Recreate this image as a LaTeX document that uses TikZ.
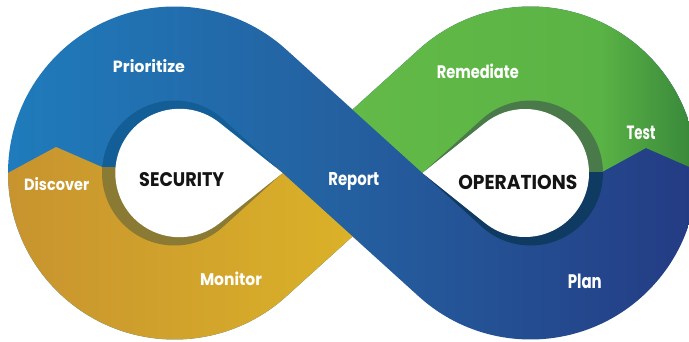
\documentclass[tikz,border=0pt]{standalone}
\usepackage{fontspec}
\usepackage{graphicx}
\setmainfont{Poppins}
\usetikzlibrary{calc}
\definecolor{bluL}{HTML}{1F7CBC}
\definecolor{bluM}{HTML}{2460A0}
\definecolor{bluR}{HTML}{243C84}
\definecolor{yelL}{HTML}{C7932F}
\definecolor{yelR}{HTML}{DBB228}
\definecolor{grnL}{HTML}{63BA47}
\definecolor{grnM}{HTML}{5AB345}
\definecolor{grnR}{HTML}{3A8A3B}
\definecolor{ringB}{HTML}{135E96}
\definecolor{ringY}{HTML}{8B7A34}
\definecolor{ringG}{HTML}{4B7A4A}
\definecolor{ringN}{HTML}{0F3A62}
\tikzset{
  lab/.style={text=white, inner sep=0pt, anchor=base, font=\bfseries},
  hub/.style={text=black!92, inner sep=0pt, anchor=base, font=\bfseries}
}
\begin{document}
\begin{tikzpicture}[x=1pt,y=1pt]
\useasboundingbox (0,0) rectangle (689,341);
\clip (0,0) rectangle (689,341);
\pgfmathsetmacro{\al}{asin(119.5/178)}
\pgfmathsetmacro{\be}{90-\al}
\pgfmathsetmacro{\nt}{47/cos(\al)}
\pgfmathsetmacro{\tp}{47/sin(\al)}
\pgfmathsetmacro{\phL}{acos(64.2/(352.5-\tp-179.5))}
\pgfmathsetmacro{\phR}{acos(64/(525-352.5-\tp))}
\coordinate (OL) at (174.5,168);
\coordinate (OR) at (530.5,168);
\coordinate (C) at (352.5,168);
\coordinate (TL) at (352.5-\tp,168);
\coordinate (TR) at (352.5+\tp,168);
\coordinate (NT) at (352.5,168+\nt);
\coordinate (NB) at (352.5,168-\nt);
\coordinate (WL) at (179.5,168);
\coordinate (WR) at (525,168);
% band
\begin{scope}
  \clip ($(OL)+(\be:166.5)$) arc[start angle=\be, end angle=360-\be, radius=166.5]
     -- (NB) -- ($(OR)+(180+\be:166.5)$) arc[start angle=180+\be, end angle=540-\be, radius=166.5]
     -- (NT) -- cycle;
  \shade[left color=bluL, right color=bluR, middle color=bluM] (0,0) rectangle (689,341);
  \begin{scope}
    \clip (-20,153) -- (56,194) -- (102,174) -- (200,174) -- (TL) -- ($(TL)+(-\al:400)$) -- (-20,-100) -- cycle;
    \shade[left color=yelL, right color=yelR] (0,0) rectangle (360,341);
  \end{scope}
  \begin{scope}
    \clip (TR) -- (602,169) -- (646,193) -- (710,165) -- (710,420) -- ($(TR)+(180-\al:500)$) -- cycle;
    \shade[left color=grnL, right color=grnM] (345,0) rectangle (601,341);
    \shade[left color=grnM, right color=grnR] (600,0) rectangle (689,341);
  \end{scope}
\end{scope}
% left hole
\begin{scope}
  \clip (TL) -- ($(OL)+(\be:72.5)$) arc[start angle=\be, end angle=360-\be, radius=72.5] -- cycle;
  \fill[ringB] (90,173.5) rectangle (300,250);
  \fill[ringY] (90,80) rectangle (300,174);
\end{scope}
\fill[white] (TL) -- ($(WL)+(\phL:64.2)$) arc[start angle=\phL, end angle=360-\phL, radius=64.2] -- cycle;
% right hole
\begin{scope}
  \clip (TR) -- ($(OR)+(180+\be:72.5)$) arc[start angle=180+\be, end angle=540-\be, radius=72.5] -- cycle;
  \fill[ringG] (410,168.5) rectangle (620,250);
  \fill[ringN] (410,80) rectangle (620,169);
\end{scope}
\fill[white] (TR) -- ($(WR)+(180+\phR:64)$) arc[start angle=180+\phR, end angle=540-\phR, radius=64] -- cycle;
% labels
\node[lab] (prio) at (149,268.5) {\resizebox{72pt}{13pt}{Prioritize}};
\node[lab] (disc) at (56.7,151) {\resizebox{65pt}{13pt}{Discover}};
\node[lab] (moni) at (231,56) {\resizebox{62pt}{13.5pt}{Monitor}};
\node[lab] (repo) at (353.8,155.3) {\resizebox{51pt}{13pt}{Report}};
\node[lab] (reme) at (477.8,262.7) {\resizebox{82pt}{14.5pt}{Remediate}};
\node[lab] (test) at (641,201.7) {\resizebox{29pt}{13.5pt}{Test}};
\node[lab] (plan) at (584.8,52.7) {\resizebox{34pt}{14.5pt}{Plan}};
\node[hub] (sec) at (181.7,154.3) {\resizebox{85pt}{14pt}{SECURITY}};
\node[hub] (ops) at (517.8,151.7) {\resizebox{119pt}{14.3pt}{OPERATIONS}};
\end{tikzpicture}
\end{document}
